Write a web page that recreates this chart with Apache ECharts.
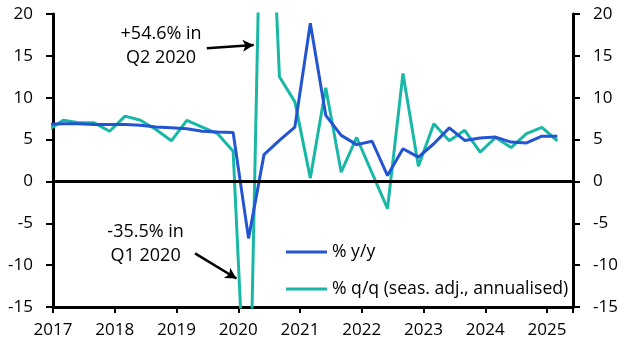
<!DOCTYPE html>
<html><head><meta charset="utf-8">
<script src="https://cdn.jsdelivr.net/npm/echarts@6/dist/echarts.min.js"></script>
<style>html,body{margin:0;padding:0;background:#fff}#c{width:630px;height:355px}</style>
</head><body><div id="c"></div>
<script>
// Quarterly observations (plotted at the last month of each quarter)
var quarters = ['2016Q4',
  '2017Q1','2017Q2','2017Q3','2017Q4',
  '2018Q1','2018Q2','2018Q3','2018Q4',
  '2019Q1','2019Q2','2019Q3','2019Q4',
  '2020Q1','2020Q2','2020Q3','2020Q4',
  '2021Q1','2021Q2','2021Q3','2021Q4',
  '2022Q1','2022Q2','2022Q3','2022Q4',
  '2023Q1','2023Q2','2023Q3','2023Q4',
  '2024Q1','2024Q2','2024Q3','2024Q4',
  '2025Q1'];
var yoy = [6.8,
  6.9,6.9,6.8,6.8,
  6.8,6.7,6.5,6.4,
  6.3,6.0,5.9,5.85,
  -6.8,3.2,4.9,6.5,
  18.9,7.9,5.5,4.4,
  4.8,0.7,3.9,2.9,
  4.5,6.4,4.9,5.2,
  5.3,4.7,4.6,5.4,
  5.4];
var qoq = [6.1,
  7.3,7.0,7.0,6.0,
  7.8,7.3,6.2,4.85,
  7.3,6.5,5.7,3.6,
  -35.5,54.6,12.5,9.5,
  0.4,11.2,1.1,5.25,
  1.0,-3.25,12.9,1.8,
  6.9,4.85,6.1,3.5,
  5.25,4.05,5.7,6.45,
  4.85];
var yTicks = {min:-15, max:20, step:5};
var xYears = {min:2017, max:2025.42, step:1};
var seriesNames = ['% y/y', '% q/q (seas. adj., annualised)'];
var notes = [
  {text:'+54.6% in\nQ2 2020', at:[2018.75, 16.2], arrow:[[2019.49, 15.9],[2020.25, 16.3]]},
  {text:'-35.5% in\nQ1 2020', at:[2018.5, -7.45], arrow:[[2019.3, -8.6],[2019.97, -11.6]]}
];

function qx(q){ var y = +q.slice(0,4), n = +q.slice(5); return y + (n*3-1)/12; }
function pairs(vals){ return quarters.map(function(q,i){ return [qx(q), vals[i]]; }); }

var FONT = 'Open Sans';
var FS = 17;
var FS2 = 18;
var chart = echarts.init(document.getElementById('c'), null, {renderer:'canvas'});

function yAxisCfg(pos){
  return {
    type:'value', position:pos, min:yTicks.min, max:yTicks.max, interval:yTicks.step,
    axisLine:{show:true, onZero:false, lineStyle:{color:'#000', width:3}},
    axisTick:{show:true, length:7, lineStyle:{color:'#000', width:2}},
    axisLabel:{color:'#000', fontFamily:FONT, fontSize:FS, margin:20},
    splitLine:{show:false}
  };
}

var option = {
  animation:false,
  textStyle:{fontFamily:FONT},
  grid:{left:53, right:57, top:14, bottom:48, containLabel:false},
  legend:{
    orient:'vertical', left:281, top:238, icon:'rect', itemWidth:41, itemHeight:3, itemGap:19,
    textStyle:{color:'#000', fontFamily:FONT, fontSize:17.6},
    data:seriesNames
  },
  xAxis:{
    type:'value', min:xYears.min, max:xYears.max, interval:xYears.step,
    axisLine:{show:true, onZero:false, lineStyle:{color:'#000', width:3}},
    axisTick:{show:true, length:6, lineStyle:{color:'#000', width:2}},
    axisLabel:{color:'#000', fontFamily:FONT, fontSize:FS, margin:15,
      formatter:function(v){ return Math.abs(v-Math.round(v))<1e-6 ? String(Math.round(v)) : ''; }},
    splitLine:{show:false}
  },
  yAxis:[yAxisCfg('left'), yAxisCfg('right')],
  series:[
    {
      name:seriesNames[0], type:'line', data:pairs(yoy), symbol:'none', clip:true,
      lineStyle:{color:'#2354D2', width:3}, itemStyle:{color:'#2354D2'}, z:3,
      markLine:{
        silent:true, symbol:['none','none'], label:{show:false},
        lineStyle:{color:'#000', width:3, type:'solid'},
        data:[{yAxis:0}]
      }
    },
    {
      name:seriesNames[1], type:'line', data:pairs(qoq), symbol:'none', clip:true,
      lineStyle:{color:'#19B8A6', width:3}, itemStyle:{color:'#19B8A6'}, z:2,
      markLine:{
        silent:true, symbol:['none','arrow'], symbolSize:[9,11], label:{show:false},
        lineStyle:{color:'#000', width:2.5, type:'solid'},
        data:notes.map(function(n){ return [{coord:n.arrow[0]},{coord:n.arrow[1]}]; })
      },
      markPoint:{
        silent:true, symbol:'circle', symbolSize:0,
        label:{show:true, position:'inside', color:'#000', fontFamily:FONT, fontSize:FS2, lineHeight:24, align:'center'},
        data:notes.map(function(n){ return {coord:n.at, value:n.text, label:{formatter:n.text}}; })
      }
    }
  ]
};
chart.setOption(option);
</script>
</body></html>
